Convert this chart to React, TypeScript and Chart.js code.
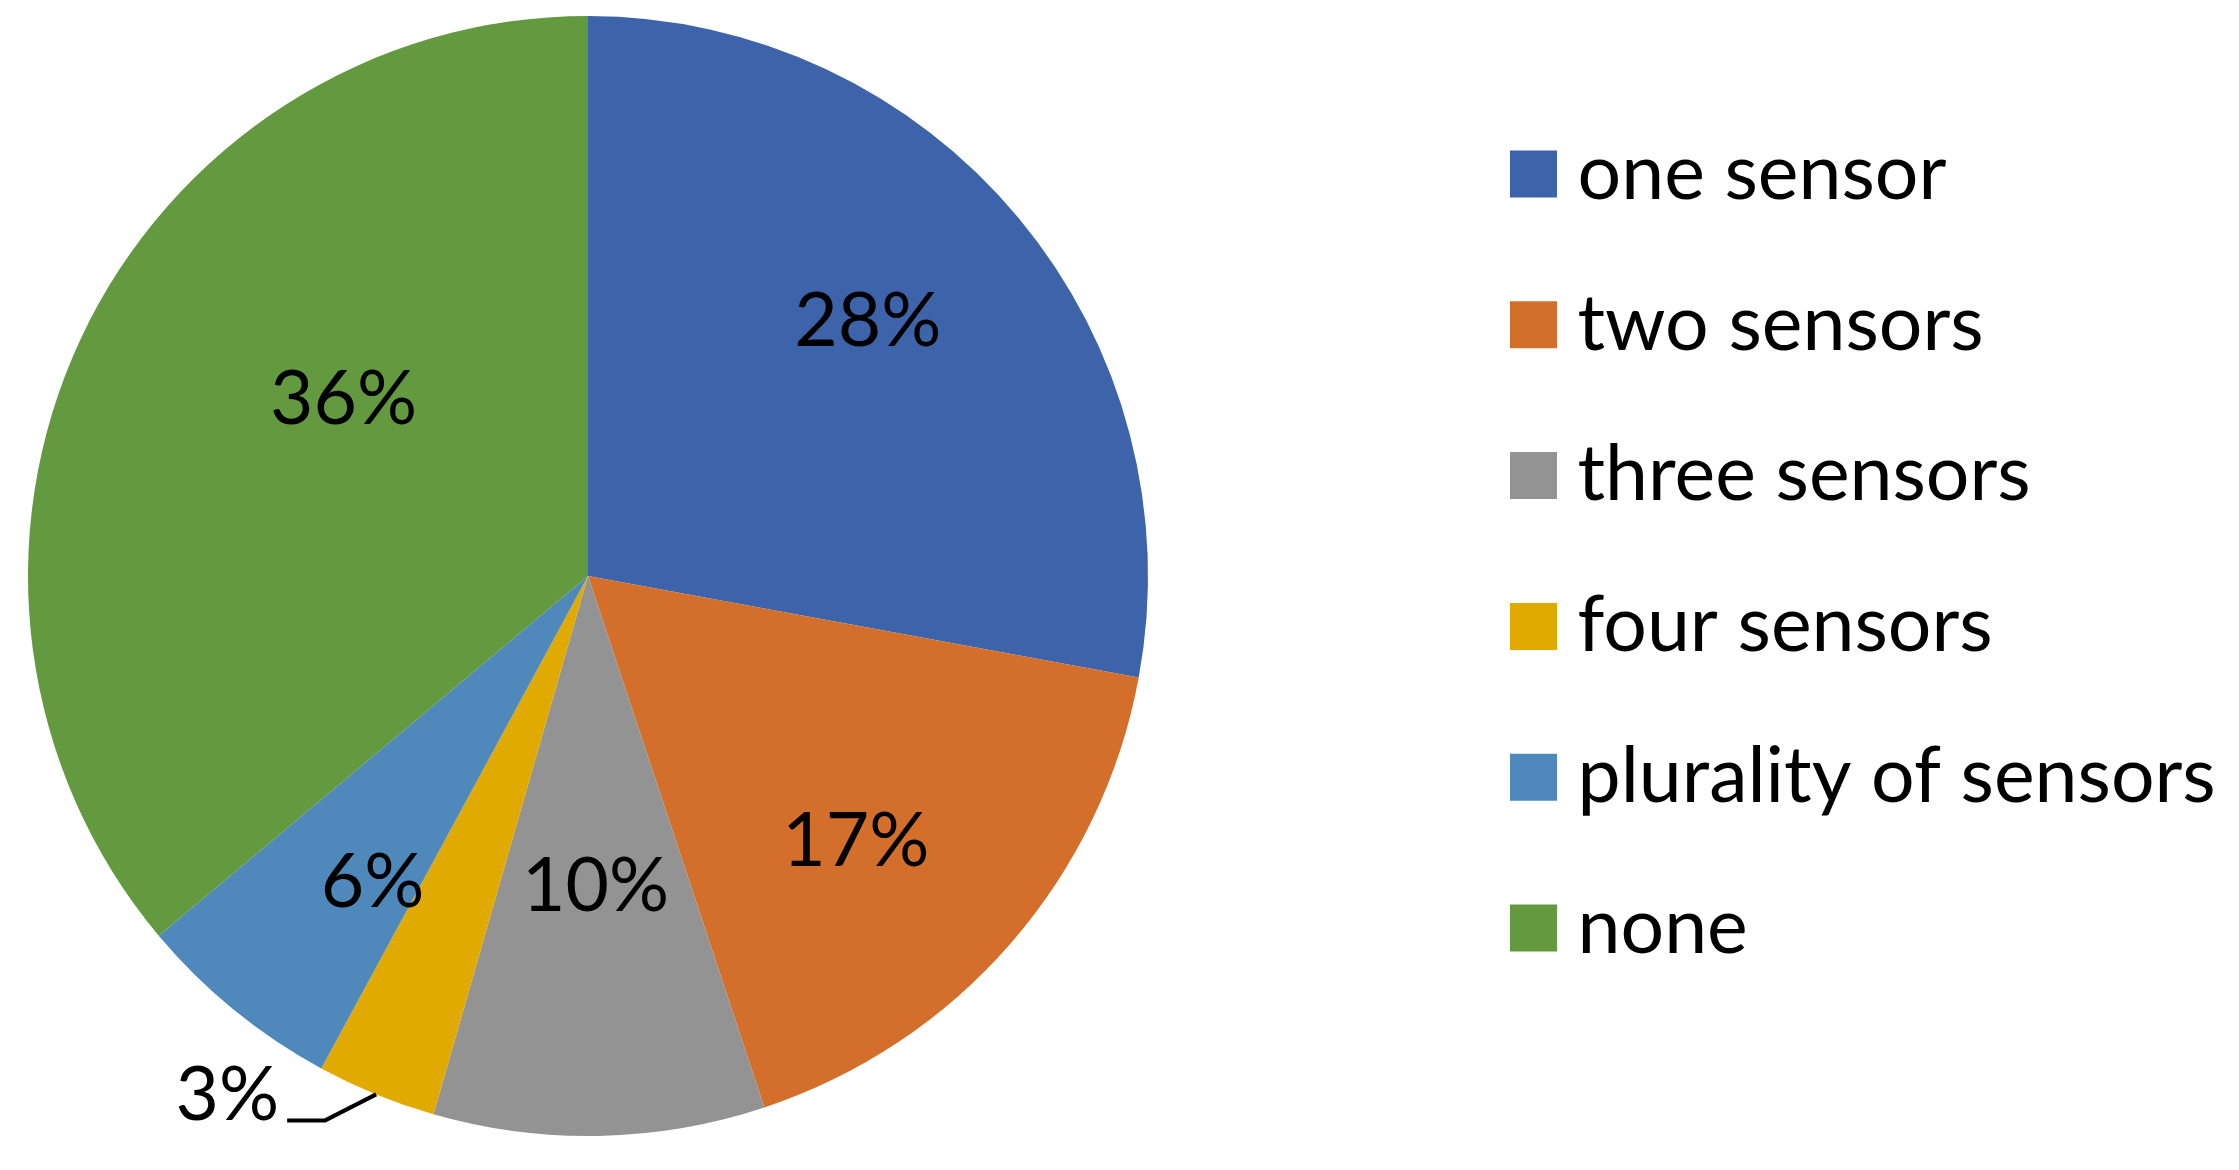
import React, { useEffect, useRef } from 'react';
import { Chart, registerables } from 'chart.js';

Chart.register(...registerables);

// ---- data ----
const categories = ['one sensor', 'two sensors', 'three sensors', 'four sensors', 'plurality of sensors', 'none'];
const shares = [27.9, 17.0, 9.55, 3.45, 6.0, 36.1];
const sliceColors = ['#3D64AA', '#D36F2B', '#939393', '#E1AA00', '#4F89BB', '#63993F'];

// ---- style ----
const FONT_FAMILY = 'Lato';
const LABEL_FONT_SIZE = 75;
const LEGEND_FONT_SIZE = 77;
const CAP_RATIO = 0.7165;

type Placement = { r: number; t: number } | { outside: true; dx: number; dy: number; run: number; gap: number };
const labelPlacement: Placement[] = [
  { r: 0.679, t: 0.472 },
  { r: 0.67, t: 0.556 },
  { r: 0.55, t: 0.493 },
  { outside: true, dx: -51, dy: 26, run: 38, gap: 8 },
  { r: 0.665, t: 0.32 },
  { r: 0.541, t: 0.586 },
];

const sliceLabelPlugin = {
  id: 'sliceLabels',
  afterDatasetsDraw(chart: any) {
    const meta = chart.getDatasetMeta(0);
    const values = chart.data.datasets[0].data as number[];
    const total = values.reduce((a, b) => a + b, 0);
    const ctx = chart.ctx as CanvasRenderingContext2D;
    const capHalf = (CAP_RATIO * LABEL_FONT_SIZE) / 2;
    ctx.save();
    ctx.font = `${LABEL_FONT_SIZE}px ${FONT_FAMILY}`;
    ctx.fillStyle = '#000000';
    ctx.strokeStyle = '#000000';
    ctx.textBaseline = 'alphabetic';
    meta.data.forEach((el: any, i: number) => {
      const { x, y, startAngle, endAngle, outerRadius } = el.getProps(
        ['x', 'y', 'startAngle', 'endAngle', 'outerRadius'],
        true
      );
      const text = Math.round((values[i] / total) * 100) + '%';
      const p: any = labelPlacement[i];
      if (p.outside) {
        const a = (startAngle + endAngle) / 2;
        const ax = x + Math.cos(a) * outerRadius;
        const ay = y + Math.sin(a) * outerRadius;
        const ex = ax + p.dx;
        const ey = ay + p.dy;
        const fx = ex - p.run;
        ctx.lineWidth = 4;
        ctx.lineJoin = 'miter';
        ctx.beginPath();
        ctx.moveTo(ax, ay);
        ctx.lineTo(ex, ey);
        ctx.lineTo(fx, ey);
        ctx.stroke();
        ctx.textAlign = 'right';
        ctx.fillText(text, fx - p.gap, ey);
      } else {
        const a = startAngle + p.t * (endAngle - startAngle);
        const px = x + Math.cos(a) * outerRadius * p.r;
        const py = y + Math.sin(a) * outerRadius * p.r;
        ctx.textAlign = 'center';
        ctx.fillText(text, px, py + capHalf);
      }
    });
    ctx.restore();
  },
};

// let the legend's clip area reach the canvas edge so long labels are not cut
const legendClipPlugin = {
  id: 'legendClipWiden',
  afterLayout(chart: any) {
    const lg = chart.legend;
    if (lg) {
      lg.right = chart.width;
      lg.width = lg.right - lg.left;
    }
  },
};

export default function App() {
  const canvasRef = useRef<HTMLCanvasElement | null>(null);

  useEffect(() => {
    if (!canvasRef.current) return;
    const chart = new Chart(canvasRef.current, {
      type: 'pie',
      data: {
        labels: categories,
        datasets: [
          {
            data: shares,
            backgroundColor: sliceColors,
            borderWidth: 0,
          },
        ],
      },
      options: {
        responsive: false,
        animation: false,
        devicePixelRatio: 1,
        layout: { padding: { left: 28, top: 16, bottom: 34, right: 309.4 } },
        plugins: {
          tooltip: { enabled: false },
          title: {
            display: true,
            text: ' ',
            position: 'right',
            weight: 500,
            fullSize: true,
            padding: { top: 0, bottom: 294.2 },
            font: { size: 10 },
          } as any,
          legend: {
            display: true,
            position: 'right',
            align: 'start',
            title: {
              display: true,
              text: ' ',
              padding: { top: 0, bottom: 33.7 },
              font: { size: 10 },
            },
            labels: {
              color: '#000000',
              font: { family: FONT_FAMILY, size: LEGEND_FONT_SIZE },
              boxWidth: 11,
              boxHeight: 11,
              padding: 73.8,
              generateLabels: (c: any) =>
                (c.data.labels as string[]).map((text, i) => ({
                  text,
                  fillStyle: sliceColors[i],
                  strokeStyle: sliceColors[i],
                  lineWidth: 36,
                  lineJoin: 'miter',
                  lineCap: 'butt',
                  hidden: false,
                  index: i,
                  fontColor: '#000000',
                })),
            },
          },
        },
      },
      plugins: [sliceLabelPlugin, legendClipPlugin],
    });
    return () => chart.destroy();
  }, []);

  return (
    <div style={{ position: 'absolute', left: 0, top: 0, width: 2239, height: 1170, background: '#ffffff' }}>
      <canvas ref={canvasRef} width={2239} height={1170} style={{ display: 'block' }} />
    </div>
  );
}
